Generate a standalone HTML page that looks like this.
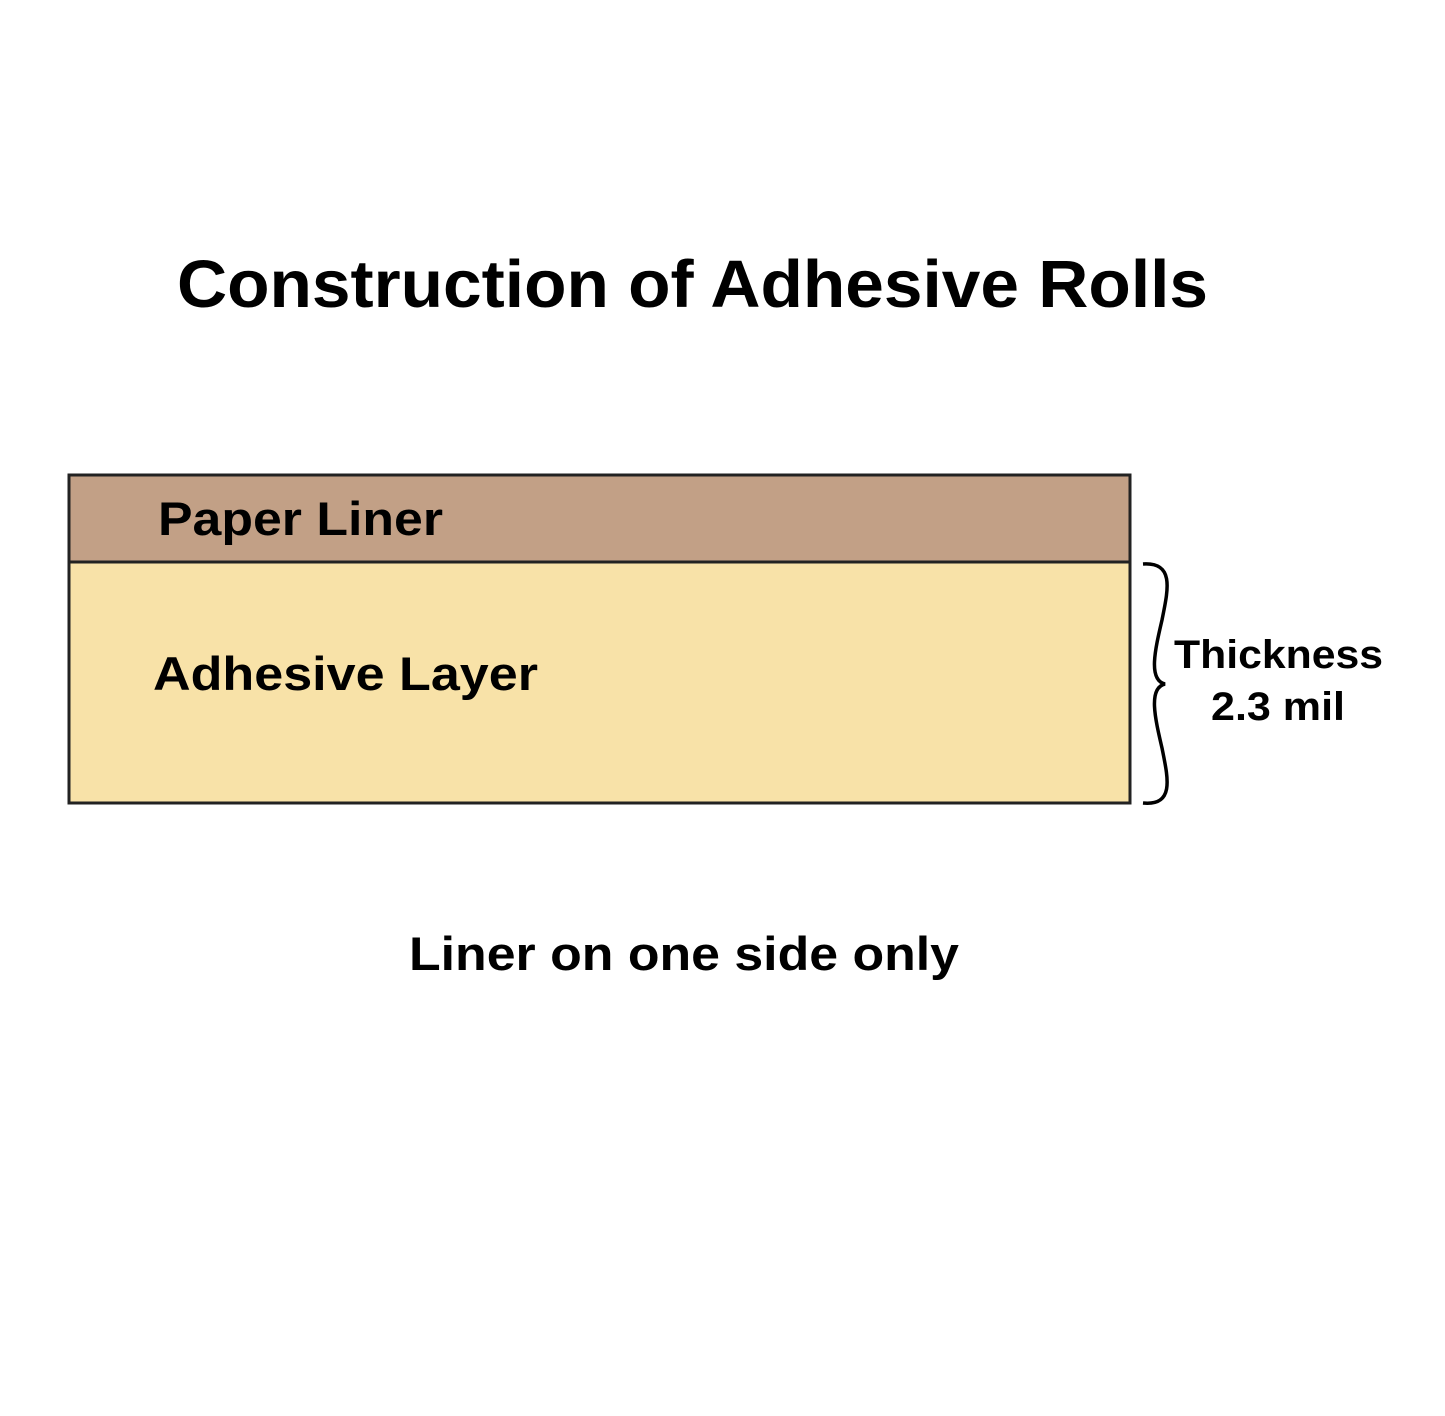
<!DOCTYPE html>
<html><head><style>body{margin:0;background:#fff}</style></head><body>
<svg width="1445" height="1411" viewBox="0 0 1445 1411" xmlns="http://www.w3.org/2000/svg" font-family="Liberation Sans, Arial, sans-serif" font-weight="bold" fill="#000">
<text x="177" y="307" font-size="67" textLength="1031" lengthAdjust="spacingAndGlyphs">Construction of Adhesive Rolls</text>
<rect x="69" y="475" width="1061" height="87" fill="#c2a086" stroke="#222" stroke-width="3"/>
<rect x="69" y="562" width="1061" height="241" fill="#f8e2a8" stroke="#222" stroke-width="3"/>
<text x="158" y="535" font-size="47" textLength="285" lengthAdjust="spacingAndGlyphs">Paper Liner</text>
<text x="153" y="690" font-size="47" textLength="385" lengthAdjust="spacingAndGlyphs">Adhesive Layer</text>
<path d="M1143 564 C1175 562 1168 590 1162 620 C1155 650 1148 680 1165 684 C1148 688 1155 718 1162 748 C1168 778 1175 806 1143 803" fill="none" stroke="#000" stroke-width="3.5"/>
<text x="1174" y="668" font-size="40" textLength="209" lengthAdjust="spacingAndGlyphs">Thickness</text>
<text x="1211" y="720" font-size="40" textLength="134" lengthAdjust="spacingAndGlyphs">2.3 mil</text>
<text x="409" y="970" font-size="47" textLength="550" lengthAdjust="spacingAndGlyphs">Liner on one side only</text>
</svg>
</body></html>
